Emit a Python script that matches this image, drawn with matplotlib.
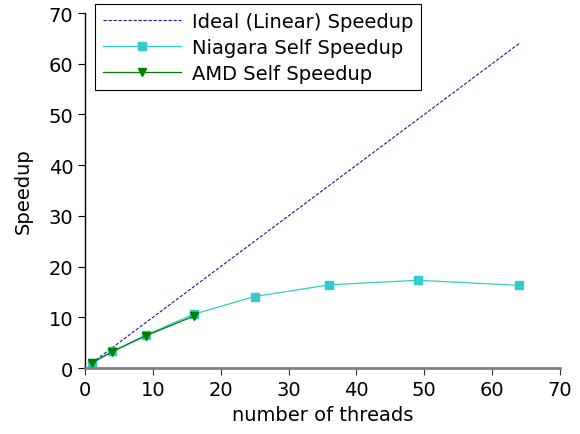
import matplotlib
matplotlib.use("Agg")
import matplotlib.pyplot as plt

threads = [1, 4, 9, 16, 25, 36, 49, 64]
ideal = [1, 4, 9, 16, 25, 36, 49, 64]
niagara = [1.0, 3.3, 6.5, 10.6, 14.1, 16.4, 17.3, 16.3]
amd_threads = [1, 4, 9, 16]
amd = [1.0, 3.2, 6.4, 10.2]

plt.rcParams['font.family'] = ['DejaVu Sans']
fig = plt.figure(figsize=(5.8, 4.35), dpi=100)
ax = fig.add_axes([0.1466, 0.1517, 0.8189, 0.8161])

ax.plot(threads, ideal, color='#1a1a99', linestyle=(0, (3, 1.5)), linewidth=0.8,
        label='Ideal (Linear) Speedup')
ax.plot(threads, niagara, color='#33cccc', linewidth=0.9, marker='s', markersize=6,
        label='Niagara Self Speedup')
ax.plot(amd_threads, amd, color='#007f00', linewidth=0.9, marker='v', markersize=6,
        label='AMD Self Speedup')

ax.set_xlim(0, 70)
ax.set_ylim(0, 70)
ax.set_xticks(range(0, 71, 10))
ax.set_yticks(range(0, 71, 10))
ax.tick_params(labelsize=14, length=5, width=0.8)
ax.set_xlabel('number of threads', fontsize=14, labelpad=4.5)
ax.set_ylabel('Speedup', fontsize=14, labelpad=11)

ax.spines['top'].set_visible(False)
ax.spines['right'].set_visible(False)
ax.spines['bottom'].set_color('#808080')
ax.spines['bottom'].set_linewidth(2)
ax.spines['left'].set_linewidth(1)
ax.tick_params(axis='x', colors='#333333', labelcolor='black')

leg = ax.legend(loc='upper left', fontsize=14, handlelength=4.0, numpoints=1,
                fancybox=False, edgecolor='black', framealpha=1,
                borderpad=0.4, labelspacing=0.36, handletextpad=0.6,
                borderaxespad=0, bbox_to_anchor=(0.021, 1.026))
leg.get_frame().set_linewidth(0.8)

fig.savefig('out.png', dpi=100)
